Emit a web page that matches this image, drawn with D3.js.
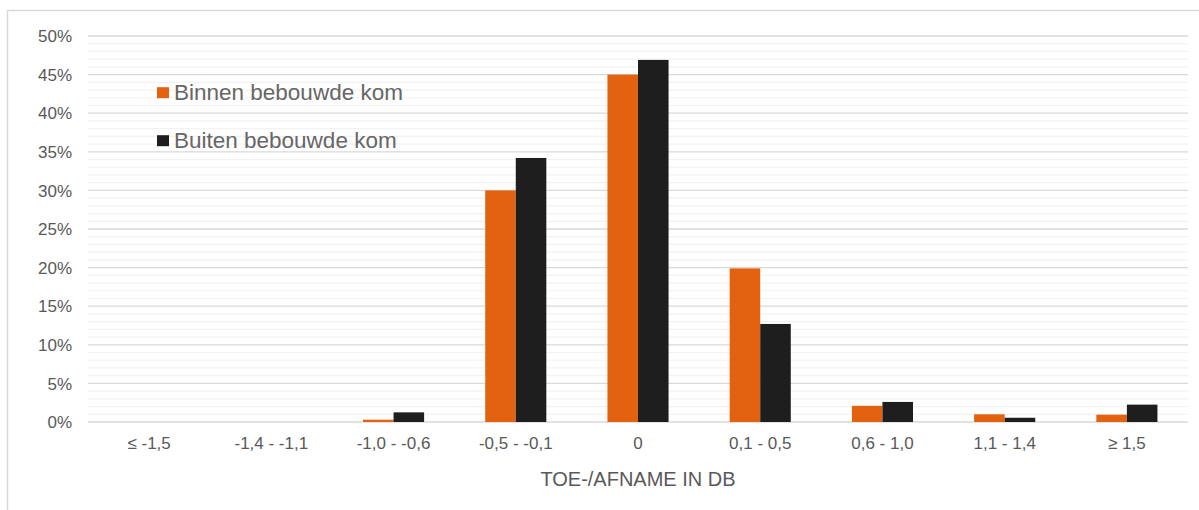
<!DOCTYPE html>
<html><head><meta charset="utf-8">
<script src="https://cdn.jsdelivr.net/npm/d3@7"></script>
<style>body{margin:0;background:#fff}svg{display:block;font-family:"Liberation Sans",Arial,sans-serif}</style>
</head><body>
<svg id="c" width="1199" height="510"></svg>
<script>
const categories = ["≤ -1,5", "-1,4 - -1,1", "-1,0 - -0,6", "-0,5 - -0,1", "0", "0,1 - 0,5", "0,6 - 1,0", "1,1 - 1,4", "≥ 1,5"];
const seriesNames = ["Binnen bebouwde kom", "Buiten bebouwde kom"];
const binnen = [0, 0, 0.3, 30.0, 45.0, 19.9, 2.1, 1.0, 0.95];
const buiten = [0, 0, 1.25, 34.2, 46.9, 12.7, 2.6, 0.55, 2.25];
const yTicks = [0, 5, 10, 15, 20, 25, 30, 35, 40, 45, 50];
const xTitle = "TOE-/AFNAME IN DB";
const colors = ["#E3620F", "#1E1E1E"];

const svg = d3.select("#c");
const L = 88, R = 1188, T = 36, B = 422;

svg.append("rect").attr("x", 7.5).attr("y", 10.5).attr("width", 1250).attr("height", 600)
  .attr("fill", "none").attr("stroke", "#d9d9d9").attr("stroke-width", 1.5);

const x = d3.scaleBand().domain(categories).range([L, R]).paddingInner(0.5).paddingOuter(0.25);
const y = d3.scaleLinear().domain([0, 50]).range([B, T]);

// minor gridlines
const minor = d3.range(0, 51, 1).filter(v => v % 5 !== 0);
svg.append("g").selectAll("line").data(minor).join("line")
  .attr("x1", L).attr("x2", R).attr("y1", d => y(d)).attr("y2", d => y(d))
  .attr("stroke", "#f2f2f2").attr("stroke-width", 1.2);
// major gridlines
svg.append("g").selectAll("line").data(yTicks).join("line")
  .attr("x1", L).attr("x2", R).attr("y1", d => y(d)).attr("y2", d => y(d))
  .attr("stroke", "#d9d9d9").attr("stroke-width", 1.3);

// y labels
svg.append("g").selectAll("text").data(yTicks).join("text")
  .attr("x", 72).attr("y", d => y(d)).attr("dy", "0.36em").attr("text-anchor", "end")
  .attr("font-size", 17).attr("fill", "#595959").text(d => d + "%");

// bars
const inner = d3.scaleBand().domain([0, 1]).range([0, x.bandwidth()]);
const data = [binnen, buiten];
data.forEach((vals, si) => {
  svg.append("g").selectAll("rect").data(vals).join("rect")
    .attr("x", (d, i) => x(categories[i]) + inner(si))
    .attr("width", inner.bandwidth())
    .attr("y", d => y(d)).attr("height", d => y(0) - y(d))
    .attr("fill", colors[si]);
});

// x labels
svg.append("g").selectAll("text").data(categories).join("text")
  .attr("x", d => x(d) + x.bandwidth() / 2).attr("y", 449).attr("text-anchor", "middle")
  .attr("font-size", 17).attr("fill", "#595959").text(d => d);

svg.append("text").attr("x", (L + R) / 2).attr("y", 486).attr("text-anchor", "middle")
  .attr("font-size", 20).attr("fill", "#595959").text(xTitle);

// legend
const leg = svg.append("g");
seriesNames.forEach((n, i) => {
  const ly = 92.7 + i * 48;
  leg.append("rect").attr("x", 157).attr("y", ly - 5.5).attr("width", 12).attr("height", 11).attr("fill", colors[i]);
  leg.append("text").attr("x", 174).attr("y", ly + 7.5)
    .attr("font-size", 22.5).attr("fill", "#666666").text(n);
});
</script>
</body></html>
